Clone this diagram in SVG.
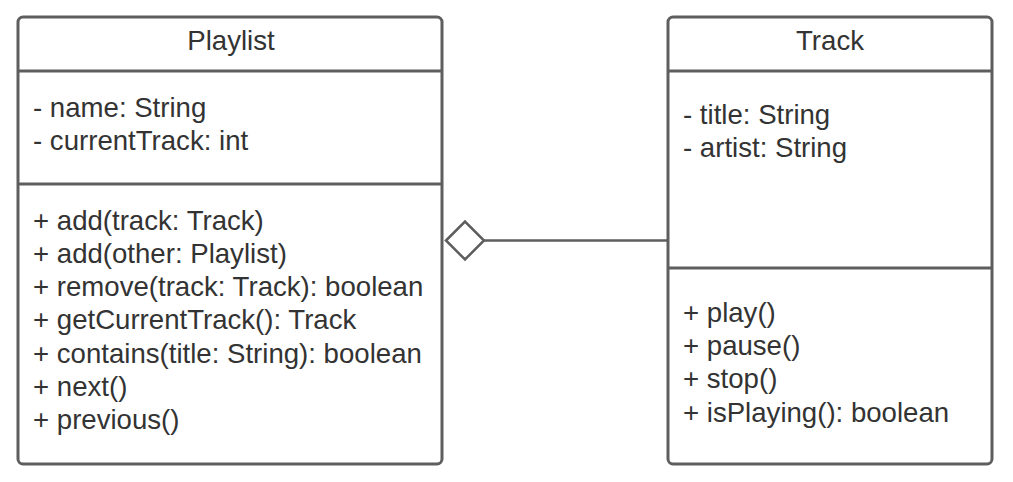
<svg xmlns="http://www.w3.org/2000/svg" width="1013" height="482" viewBox="0 0 1013 482">
<style>
.box{fill:#fff;stroke:#5e5e5e;stroke-width:3}
.div{stroke:#5e5e5e;stroke-width:3}
.t{font-family:"Liberation Sans",Arial,sans-serif;font-size:27.6px;fill:#333}
.c{text-anchor:middle}
.conn{stroke:#5e5e5e;stroke-width:2.5;fill:none}
</style>
<rect width="1013" height="482" fill="#fff"/>
<g id="playlist">
<rect class="box" x="18" y="17" width="424" height="447" rx="5"/>
<line class="div" x1="18" y1="71" x2="442" y2="71"/>
<line class="div" x1="18" y1="184" x2="442" y2="184"/>
<text class="t c" x="231" y="49.5">Playlist</text>
<text class="t" x="33" y="117">- name: String</text>
<text class="t" x="33" y="150">- currentTrack: int</text>
<text class="t" x="33" y="229.5">+ add(track: Track)</text>
<text class="t" x="33" y="262.8">+ add(other: Playlist)</text>
<text class="t" x="33" y="296.1">+ remove(track: Track): boolean</text>
<text class="t" x="33" y="329.4">+ getCurrentTrack(): Track</text>
<text class="t" x="33" y="362.7">+ contains(title: String): boolean</text>
<text class="t" x="33" y="396">+ next()</text>
<text class="t" x="33" y="429.3">+ previous()</text>
</g>
<g id="track">
<rect class="box" x="668" y="17" width="324" height="447" rx="5"/>
<line class="div" x1="668" y1="71" x2="992" y2="71"/>
<line class="div" x1="668" y1="268" x2="992" y2="268"/>
<text class="t c" x="830" y="49.5">Track</text>
<text class="t" x="683" y="124">- title: String</text>
<text class="t" x="683" y="157">- artist: String</text>
<text class="t" x="683" y="322">+ play()</text>
<text class="t" x="683" y="355">+ pause()</text>
<text class="t" x="683" y="388.3">+ stop()</text>
<text class="t" x="683" y="421.6">+ isPlaying(): boolean</text>
</g>
<g id="connectors">
<path class="conn" d="M484 240.5 H668"/>
<path class="conn" d="M446 240.5 L465 221.5 L484 240.5 L465 259.5 Z" fill="#fff"/>
</g>
</svg>
